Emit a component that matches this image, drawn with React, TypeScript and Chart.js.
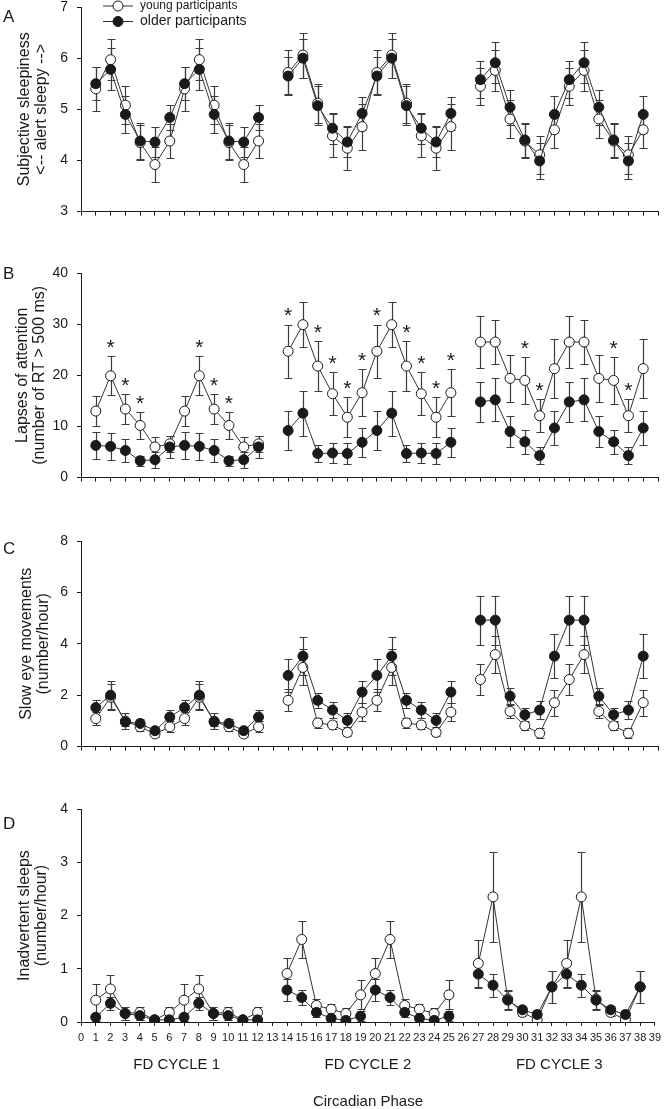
import React, { useEffect, useRef } from 'react';
import { Chart, registerables } from 'chart.js';

Chart.register(...registerables);

const FONT = '"Liberation Sans", Arial, Helvetica, sans-serif';
const INK = '#1a1a1a';
const LINE = '#333333';
const ERR = '#3c3c3c';

// Circadian phase of each plotted point (13 and 26 separate the FD cycles)
const PHASES = [1, 2, 3, 4, 5, 6, 7, 8, 9, 10, 11, 12, 13, 14, 15, 16, 17, 18, 19, 20, 21, 22, 23, 24, 25, 26, 27, 28, 29, 30, 31, 32, 33, 34, 35, 36, 37, 38];
const CYCLE_LABELS = ['FD CYCLE 1', 'FD CYCLE 2', 'FD CYCLE 3'];
const CYCLE_CENTERS = [6.5, 19.5, 32.5];
const SERIES_LABELS = ['young participants', 'older participants'];

// Panel A: subjective sleepiness
const A_YOUNG = [5.40, 5.97, 5.08, 4.35, 3.92, 4.38, 5.40, 5.97, 5.08, 4.35, 3.92, 4.38, null, 5.72, 6.06, 5.12, 4.48, 4.24, 4.66, 5.72, 6.06, 5.12, 4.48, 4.24, 4.66, null, 5.45, 5.76, 4.81, 4.38, 4.11, 4.60, 5.45, 5.76, 4.81, 4.38, 4.11, 4.60];
const A_YOUNG_SEM = [0.43, 0.40, 0.37, 0.35, 0.35, 0.33, 0.43, 0.40, 0.37, 0.35, 0.35, 0.33, null, 0.43, 0.44, 0.38, 0.42, 0.43, 0.45, 0.43, 0.44, 0.38, 0.42, 0.43, 0.45, null, 0.36, 0.40, 0.38, 0.33, 0.37, 0.35, 0.36, 0.40, 0.38, 0.33, 0.37, 0.35];
const A_OLDER = [5.50, 5.78, 4.90, 4.38, 4.36, 4.84, 5.50, 5.78, 4.90, 4.38, 4.36, 4.84, null, 5.65, 6.00, 5.07, 4.63, 4.36, 4.92, 5.65, 6.00, 5.07, 4.63, 4.36, 4.92, null, 5.58, 5.91, 5.04, 4.40, 3.99, 4.90, 5.58, 5.91, 5.04, 4.40, 3.99, 4.90];
const A_OLDER_SEM = [0.32, 0.41, 0.36, 0.35, 0.30, 0.25, 0.32, 0.41, 0.36, 0.35, 0.30, 0.25, null, 0.38, 0.38, 0.38, 0.30, 0.30, 0.33, 0.38, 0.38, 0.38, 0.30, 0.30, 0.33, null, 0.36, 0.40, 0.34, 0.33, 0.36, 0.36, 0.36, 0.40, 0.34, 0.33, 0.36, 0.36];

// Panel B: lapses of attention
const B_YOUNG = [13.0, 19.9, 13.4, 10.2, 6.0, 6.6, 13.0, 19.9, 13.4, 10.2, 6.0, 6.6, null, 24.7, 29.9, 21.8, 16.4, 11.8, 16.6, 24.7, 29.9, 21.8, 16.4, 11.8, 16.6, null, 26.5, 26.5, 19.4, 19.0, 12.1, 21.3, 26.5, 26.5, 19.4, 19.0, 12.1, 21.3];
const B_YOUNG_SEM = [3.0, 3.8, 2.95, 2.6, 2.0, 1.6, 3.0, 3.8, 2.95, 2.6, 2.0, 1.6, null, 5.2, 4.4, 4.9, 4.2, 3.9, 4.6, 5.2, 4.4, 4.9, 4.2, 3.9, 4.6, null, 5.1, 4.3, 4.55, 4.6, 3.2, 5.7, 5.1, 4.3, 4.55, 4.6, 3.2, 5.7];
const B_OLDER = [6.3, 6.1, 5.3, 3.3, 3.5, 6.0, 6.3, 6.1, 5.3, 3.3, 3.5, 6.0, null, 9.2, 12.6, 4.7, 4.8, 4.7, 6.9, 9.2, 12.6, 4.7, 4.8, 4.7, 6.9, null, 14.8, 15.2, 9.0, 7.0, 4.3, 9.7, 14.8, 15.2, 9.0, 7.0, 4.3, 9.7];
const B_OLDER_SEM = [2.6, 2.6, 2.2, 1.0, 1.6, 2.2, 2.6, 2.6, 2.2, 1.0, 1.6, 2.2, null, 3.8, 4.4, 1.7, 2.0, 2.0, 2.8, 3.8, 4.4, 1.7, 2.0, 2.0, 2.8, null, 3.85, 4.2, 3.1, 2.4, 1.6, 3.3, 3.85, 4.2, 3.1, 2.4, 1.6, 3.3];
const B_STAR_PHASES = [2, 3, 4, 8, 9, 10, 14, 16, 17, 18, 19, 20, 22, 23, 24, 25, 30, 31, 36, 37];

// Panel C: slow eye movements
const C_YOUNG = [1.09, 1.92, 0.99, 0.77, 0.49, 0.77, 1.09, 1.92, 0.99, 0.77, 0.49, 0.77, null, 1.80, 3.08, 0.92, 0.84, 0.55, 1.34, 1.80, 3.08, 0.92, 0.84, 0.55, 1.34, null, 2.61, 3.58, 1.37, 0.81, 0.52, 1.71, 2.61, 3.58, 1.37, 0.81, 0.52, 1.71];
const C_YOUNG_SEM = [0.25, 0.50, 0.30, 0.18, 0.13, 0.22, 0.25, 0.50, 0.30, 0.18, 0.13, 0.22, null, 0.43, 0.70, 0.18, 0.15, 0.15, 0.35, 0.43, 0.70, 0.18, 0.15, 0.15, 0.35, null, 0.59, 0.73, 0.27, 0.17, 0.20, 0.50, 0.59, 0.73, 0.27, 0.17, 0.20, 0.50];
const C_OLDER = [1.52, 2.00, 0.96, 0.90, 0.62, 1.15, 1.52, 2.00, 0.96, 0.90, 0.62, 1.15, null, 2.77, 3.52, 1.80, 1.42, 1.02, 2.12, 2.77, 3.52, 1.80, 1.42, 1.02, 2.12, null, 4.92, 4.92, 1.96, 1.24, 1.42, 3.52, 4.92, 4.92, 1.96, 1.24, 1.42, 3.52];
const C_OLDER_SEM = [0.30, 0.55, 0.17, 0.18, 0.13, 0.28, 0.30, 0.55, 0.17, 0.18, 0.13, 0.28, null, 0.65, 0.75, 0.30, 0.30, 0.27, 0.43, 0.65, 0.75, 0.30, 0.30, 0.27, 0.43, null, 0.95, 0.95, 0.33, 0.28, 0.35, 0.86, 0.95, 0.95, 0.33, 0.28, 0.35, 0.86];

// Panel D: inadvertent sleeps
const D_YOUNG = [0.41, 0.62, 0.16, 0.18, 0.04, 0.18, 0.41, 0.62, 0.16, 0.18, 0.04, 0.18, null, 0.91, 1.55, 0.31, 0.24, 0.16, 0.51, 0.91, 1.55, 0.31, 0.24, 0.16, 0.51, null, 1.10, 2.35, 0.43, 0.18, 0.04, 0.66, 1.10, 2.35, 0.43, 0.18, 0.04, 0.66];
const D_YOUNG_SEM = [0.31, 0.26, 0.12, 0.10, 0.03, 0.10, 0.31, 0.26, 0.12, 0.10, 0.03, 0.10, null, 0.29, 0.34, 0.12, 0.10, 0.10, 0.27, 0.29, 0.34, 0.12, 0.10, 0.10, 0.27, null, 0.44, 0.85, 0.18, 0.07, 0.03, 0.30, 0.44, 0.85, 0.18, 0.07, 0.03, 0.30];
const D_OLDER = [0.09, 0.35, 0.16, 0.12, 0.04, 0.04, 0.09, 0.35, 0.16, 0.12, 0.04, 0.04, null, 0.60, 0.46, 0.18, 0.07, 0.03, 0.11, 0.60, 0.46, 0.18, 0.07, 0.03, 0.11, null, 0.90, 0.69, 0.41, 0.23, 0.14, 0.66, 0.90, 0.69, 0.41, 0.23, 0.14, 0.66];
const D_OLDER_SEM = [0.08, 0.12, 0.12, 0.08, 0.03, 0.03, 0.08, 0.12, 0.12, 0.08, 0.03, 0.03, null, 0.20, 0.14, 0.08, 0.05, 0.03, 0.10, 0.20, 0.14, 0.08, 0.05, 0.03, 0.10, null, 0.27, 0.22, 0.18, 0.07, 0.08, 0.30, 0.27, 0.22, 0.18, 0.07, 0.08, 0.30];

type Panel = {
  letter: string;
  yTitle: string[];
  yMin: number;
  yMax: number;
  yStep: number;
  young: (number | null)[];
  youngSem: (number | null)[];
  older: (number | null)[];
  olderSem: (number | null)[];
  stars?: number[];
  top: number;
  height: number;
  xAxisHeight: number;
  bottomAxis: boolean;
  legend: boolean;
  titlePad: number;
  letterDy: number;
};

const PANELS: Panel[] = [
  { letter: 'A', yTitle: ['Subjective sleepiness', '<-- alert sleepy -->'], yMin: 3, yMax: 7, yStep: 1, young: A_YOUNG, youngSem: A_YOUNG_SEM, older: A_OLDER, olderSem: A_OLDER_SEM, top: -13, height: 242, xAxisHeight: 10, bottomAxis: false, legend: true, titlePad: 16.5, letterDy: 10.5 },
  { letter: 'B', yTitle: ['Lapses of attention', '(number of RT > 500 ms)'], yMin: 0, yMax: 40, yStep: 10, young: B_YOUNG, youngSem: B_YOUNG_SEM, older: B_OLDER, olderSem: B_OLDER_SEM, stars: B_STAR_PHASES, top: 253, height: 242, xAxisHeight: 10, bottomAxis: false, legend: false, titlePad: 14, letterDy: 1 },
  { letter: 'C', yTitle: ['Slow eye movements', '(number/hour)'], yMin: 0, yMax: 8, yStep: 2, young: C_YOUNG, youngSem: C_YOUNG_SEM, older: C_OLDER, olderSem: C_OLDER_SEM, top: 521, height: 243, xAxisHeight: 10, bottomAxis: false, legend: false, titlePad: 18.5, letterDy: 8 },
  { letter: 'D', yTitle: ['Inadvertent sleeps', '(number/hour)'], yMin: 0, yMax: 4, yStep: 1, young: D_YOUNG, youngSem: D_YOUNG_SEM, older: D_OLDER, olderSem: D_OLDER_SEM, top: 789, height: 320, xAxisHeight: 87, bottomAxis: true, legend: false, titlePad: 16.5, letterDy: 15 },
];

function drawMarker(ctx: CanvasRenderingContext2D, x: number, y: number, filled: boolean) {
  ctx.beginPath();
  ctx.arc(x, y, 5, 0, Math.PI * 2);
  ctx.fillStyle = filled ? INK : '#ffffff';
  ctx.fill();
  ctx.lineWidth = 1;
  ctx.strokeStyle = INK;
  ctx.stroke();
}

function buildChart(canvas: HTMLCanvasElement, p: Panel) {
  const toPts = (vals: (number | null)[]) => PHASES.map((x, i) => ({ x, y: vals[i] }));

  const errorBars = {
    id: 'errorBars',
    beforeDatasetsDraw(chart: any) {
      const { ctx, scales } = chart;
      const xs = scales.x;
      const ys = scales.y;
      ctx.save();
      ctx.strokeStyle = ERR;
      ctx.lineWidth = 1.2;
      chart.data.datasets.forEach((ds: any) => {
        const errs: (number | null)[] = ds.errors;
        ds.data.forEach((pt: any, i: number) => {
          const e = errs[i];
          if (pt.y == null || e == null) return;
          const px = Math.round(xs.getPixelForValue(pt.x)) + 0.5;
          const hi = Math.round(ys.getPixelForValue(pt.y + e)) + 0.5;
          const lo = Math.round(ys.getPixelForValue(Math.max(pt.y - e, ys.min))) + 0.5;
          ctx.beginPath();
          ctx.moveTo(px, hi);
          ctx.lineTo(px, lo);
          ctx.moveTo(px - 4, hi);
          ctx.lineTo(px + 4, hi);
          if (pt.y - e > ys.min) {
            ctx.moveTo(px - 4, lo);
            ctx.lineTo(px + 4, lo);
          }
          ctx.stroke();
        });
      });
      ctx.restore();
    },
  };

  const decor = {
    id: 'decor',
    afterDraw(chart: any) {
      const { ctx, chartArea, scales } = chart;
      const xs = scales.x;
      const ys = scales.y;
      ctx.save();
      // panel letter
      ctx.fillStyle = INK;
      ctx.font = `17px ${FONT}`;
      ctx.textAlign = 'left';
      ctx.textBaseline = 'middle';
      ctx.fillText(p.letter, 3, chartArea.top + p.letterDy);

      // significance stars
      if (p.stars) {
        ctx.font = `21px ${FONT}`;
        ctx.textAlign = 'center';
        ctx.textBaseline = 'middle';
        p.stars.forEach((ph) => {
          const i = PHASES.indexOf(ph);
          const v = p.young[i];
          const e = p.youngSem[i];
          if (v == null || e == null) return;
          const px = xs.getPixelForValue(ph);
          const py = ys.getPixelForValue(v + e);
          ctx.fillText('*', px, py - 8);
        });
      }

      // legend
      if (p.legend) {
        const lx0 = chartArea.left + 22;
        const lx1 = chartArea.left + 52;
        const cx = chartArea.left + 37;
        const rows = [
          { label: SERIES_LABELS[0], filled: false, dy: -1, size: 12 },
          { label: SERIES_LABELS[1], filled: true, dy: 14.5, size: 14 },
        ];
        rows.forEach((r) => {
          const yy = chartArea.top + r.dy;
          ctx.strokeStyle = LINE;
          ctx.lineWidth = 1;
          ctx.beginPath();
          ctx.moveTo(lx0, yy);
          ctx.lineTo(lx1, yy);
          ctx.stroke();
          drawMarker(ctx, cx, yy, r.filled);
          ctx.fillStyle = INK;
          ctx.font = `${r.size}px ${FONT}`;
          ctx.textAlign = 'left';
          ctx.textBaseline = 'middle';
          ctx.fillText(r.label, chartArea.left + 59, yy);
        });
      }

      // cycle labels
      if (p.bottomAxis) {
        ctx.fillStyle = INK;
        ctx.font = `15px ${FONT}`;
        ctx.textAlign = 'center';
        ctx.textBaseline = 'middle';
        CYCLE_LABELS.forEach((lab, k) => {
          ctx.fillText(lab, xs.getPixelForValue(CYCLE_CENTERS[k]), chartArea.bottom + 43);
        });
      }
      ctx.restore();
    },
  };

  const common = {
    borderColor: LINE,
    borderWidth: 1,
    pointRadius: 5,
    pointHoverRadius: 5,
    pointBorderColor: INK,
    pointBorderWidth: 1,
    spanGaps: false,
    tension: 0,
    fill: false,
  };

  return new Chart(canvas, {
    type: 'line',
    data: {
      datasets: [
        { ...common, label: SERIES_LABELS[1], data: toPts(p.older), errors: p.olderSem, pointBackgroundColor: INK } as any,
        { ...common, label: SERIES_LABELS[0], data: toPts(p.young), errors: p.youngSem, pointBackgroundColor: '#ffffff' } as any,
      ],
    },
    options: {
      responsive: false,
      animation: false,
      devicePixelRatio: 1,
      layout: { padding: { top: 20, right: 8, bottom: 0, left: 0 } },
      plugins: { legend: { display: false }, tooltip: { enabled: false } },
      events: [],
      scales: {
        x: {
          type: 'linear',
          min: 0,
          max: 39,
          afterFit: (s: any) => { s.height = p.xAxisHeight; },
          grid: { display: true, drawOnChartArea: false, drawTicks: true, tickLength: 4, color: INK },
          border: { display: true, color: INK, width: 1 },
          ticks: {
            display: p.bottomAxis,
            stepSize: 1,
            autoSkip: false,
            maxRotation: 0,
            minRotation: 0,
            padding: 5,
            color: INK,
            font: { family: FONT, size: 11 },
          },
          title: {
            display: p.bottomAxis,
            text: 'Circadian Phase',
            color: INK,
            font: { family: FONT, size: 15, lineHeight: 1 },
            padding: { top: 0, bottom: 0 },
          },
        },
        y: {
          type: 'linear',
          min: p.yMin,
          max: p.yMax,
          afterFit: (s: any) => { s.width = 81; },
          grid: { display: true, drawOnChartArea: false, drawTicks: true, tickLength: 4, color: INK },
          border: { display: true, color: INK, width: 1 },
          ticks: {
            stepSize: p.yStep,
            padding: 9,
            color: INK,
            font: { family: FONT, size: 14 },
          },
          title: {
            display: true,
            text: p.yTitle,
            color: INK,
            font: { family: FONT, size: 16, lineHeight: 1.05 },
            padding: { top: p.titlePad, bottom: 0 },
          },
        },
      },
    } as any,
    plugins: [errorBars, decor],
  });
}

function PanelCanvas({ panel }: { panel: Panel }) {
  const ref = useRef<HTMLCanvasElement | null>(null);
  useEffect(() => {
    if (!ref.current) return;
    const chart = buildChart(ref.current, panel);
    return () => chart.destroy();
  }, [panel]);
  return (
    <canvas
      ref={ref}
      width={666}
      height={panel.height}
      style={{ position: 'absolute', left: 0, top: panel.top, width: 666, height: panel.height, display: 'block' }}
    />
  );
}

export default function App() {
  return (
    <div style={{ position: 'absolute', left: 0, top: 0, width: 666, height: 1109, overflow: 'hidden', background: '#ffffff' }}>
      {PANELS.map((p) => (
        <PanelCanvas key={p.letter} panel={p} />
      ))}
    </div>
  );
}
